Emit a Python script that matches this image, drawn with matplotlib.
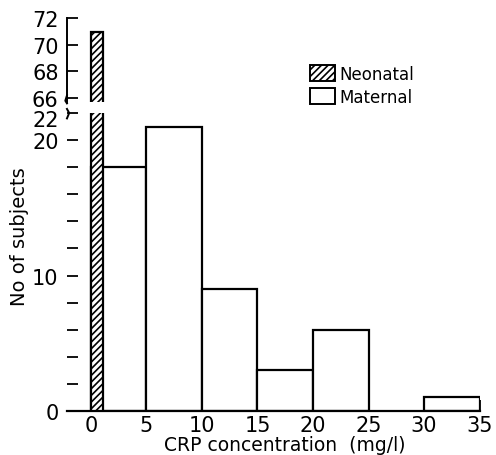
import matplotlib.pyplot as plt
import matplotlib.transforms as mtransforms
from matplotlib.patches import Patch

# data
bin_left = [0, 5, 10, 15, 20, 30]
maternal = [18, 21, 9, 3, 6, 1]
neo_left = [0]
neonatal = [71]
xticks = [0, 5, 10, 15, 20, 25, 30, 35]

plt.rcParams['font.family'] = 'DejaVu Sans'
plt.rcParams['hatch.linewidth'] = 1.2

fig = plt.figure(figsize=(4.96, 4.56), dpi=100)
ax = fig.add_axes([0.135, 0.0965, 0.833, 0.6535])
ax2 = fig.add_axes([0.135, 0.774, 0.833, 0.1836])

# maternal bars (bottom part)
ax.bar(bin_left, maternal, width=5, align='edge', color='white', edgecolor='black', linewidth=1.6, zorder=2)
# neonatal bar in both parts
for a in (ax, ax2):
    a.bar(neo_left, neonatal, width=1.1, align='edge', color='white', edgecolor='black',
          hatch='/////', linewidth=1.6, zorder=3)

ax.set_xlim(-2.15, 35.05)
ax.set_ylim(0, 22)
ax2.set_xlim(-2.15, 35.05)
ax2.set_ylim(65.7, 72)

for s in ['top', 'right', 'left']:
    ax.spines[s].set_visible(False)
ax.spines['bottom'].set_linewidth(1.6)
for s in ['top', 'right', 'bottom']:
    ax2.spines[s].set_visible(False)
ax2.spines['left'].set_linewidth(1.4)

ax.set_xticks(xticks)
ax.set_xticks([2, 3, 4], minor=True)
ax.tick_params(axis='x', which='both', direction='in', length=8, width=1.3, pad=3, labelsize=15)
ax.set_yticks([0, 10, 20, 22])
ax.set_yticklabels(['0', '10', '20', '22'])
ax.set_yticks([2, 4, 6, 8, 12, 14, 16, 18], minor=True)
ax.tick_params(axis='y', which='both', direction='in', length=8, width=1.3, pad=6, labelsize=15)
# the "22" label sits a little lower in the original
lab22 = ax.get_yticklabels()[3]
lab22.set_transform(lab22.get_transform() + mtransforms.ScaledTranslation(0, -5 / 100, fig.dpi_scale_trans))

ax2.set_xticks([])
ax2.set_yticks([66, 68, 70, 72])
ax2.tick_params(axis='y', direction='in', length=8, width=1.3, pad=6, labelsize=15)

# axis break marks
ax.plot([-2.15, -1.95, -2.15], [21.6, 22.0, 22.3], color='black', lw=1.4, clip_on=False)
ax2.plot([-2.15, -2.3, -2.15], [65.6, 65.8, 66.2], color='black', lw=1.4, clip_on=False)

fig.text(0.04, 0.48, 'No of subjects', rotation=90, ha='center', va='center', fontsize=14)
fig.text(0.575, 0.022, 'CRP concentration  (mg/l)', ha='center', va='center', fontsize=13.5)

handles = [Patch(facecolor='white', edgecolor='black', hatch='/////', linewidth=1.4, label='Neonatal'),
           Patch(facecolor='white', edgecolor='black', linewidth=1.4, label='Maternal')]
fig.legend(handles=handles, loc='upper left', bbox_to_anchor=(0.624, 0.855), frameon=False,
           fontsize=12, handlelength=1.5, handleheight=1.1, handletextpad=0.3, labelspacing=0.3,
           borderpad=0, borderaxespad=0)

fig.savefig('out.png', dpi=100)
